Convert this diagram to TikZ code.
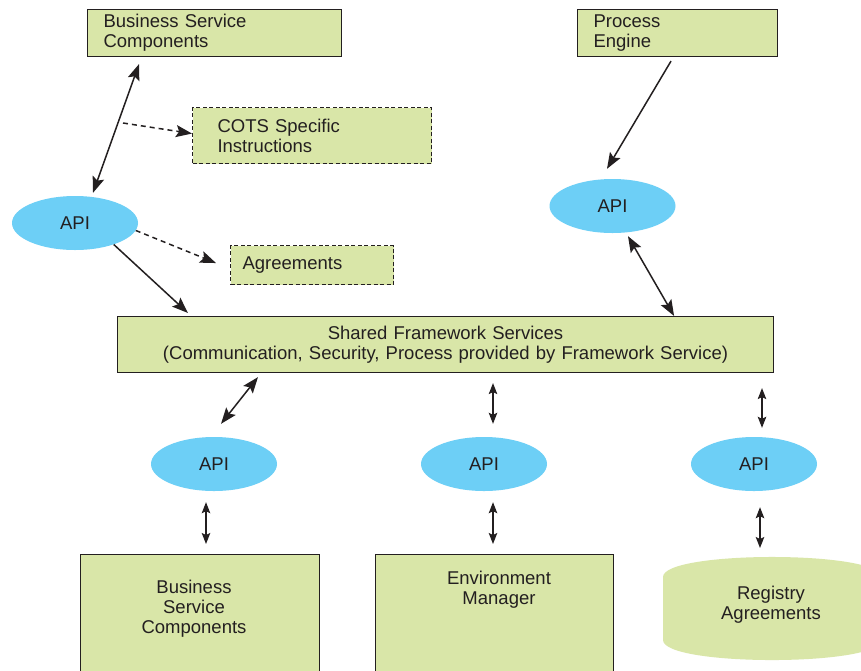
\documentclass[tikz,border=0pt]{standalone}
\usepackage{fontspec}
\setmainfont{Liberation Sans}
\usetikzlibrary{arrows.meta,calc,shapes.geometric}
\definecolor{boxgreen}{RGB}{217,230,168}
\definecolor{apiblue}{RGB}{109,207,246}
\definecolor{ink}{RGB}{35,31,32}
\begin{document}
\begin{tikzpicture}[x=1pt,y=-1pt,
  every node/.style={font=\fontsize{18.5}{20}\selectfont, text=ink},
  gbox/.style={draw=ink, line width=1.1pt, fill=boxgreen, rectangle, anchor=north west, align=left, inner ysep=0pt},
  dbox/.style={gbox, dash pattern=on 4pt off 2.5pt},
  api/.style={ellipse, fill=apiblue, minimum width=126pt, minimum height=54pt, inner sep=0pt},
  conn/.style={draw=ink, line width=1.5pt},
  dconn/.style={conn, dash pattern=on 5pt off 4pt},
  one/.style={-{Stealth[length=16pt,width=12pt,inset=3pt]}},
  both/.style={{Stealth[length=16pt,width=12pt,inset=3pt]}-{Stealth[length=16pt,width=12pt,inset=3pt]}},
  bothsm/.style={line width=1.2pt,{Stealth[length=11pt,width=8.5pt,inset=2pt]}-{Stealth[length=11pt,width=8.5pt,inset=2pt]}}
]
\useasboundingbox (0,0) rectangle (861,670);
\fill[white] (0,0) rectangle (861,670);
\clip (0,0) rectangle (861,670);

% top row
\node[gbox, minimum height=47pt, text width=222pt, inner xsep=16pt] (bsc) at (87,9) {Business Service\\Components};
\node[dbox, minimum height=56pt, text width=189pt, inner xsep=25pt] (cots) at (192,107) {COTS Specific\\Instructions};
\node[dbox, minimum height=39pt, text width=139pt, inner xsep=12pt] (agr) at (230,245) {Agreements};
\node[gbox, minimum height=47pt, text width=168pt, inner xsep=16pt] (pe) at (577,9) {Process\\Engine};

% APIs
\node[api] (api1) at (75,223) {API};
\node[api] (api2) at (612.5,206) {API};
\node[api] (api3) at (214,464) {API};
\node[api] (api4) at (484,464) {API};
\node[api] (api5) at (754,464) {API};

% shared framework
\node[gbox, minimum height=56pt, text width=656pt, inner xsep=0pt, align=center] (sfs) at (117,316)
  {Shared Framework Services\\(Communication, Security, Process provided by Framework Service)};

% bottom boxes
\node[gbox, minimum height=140pt, minimum width=239pt, inner sep=0pt] (bsc2) at (80,554) {};
\node[align=center] (bsc2t) at (194,608.5) {Business\\Service\\Components};
\node[gbox, minimum height=140pt, minimum width=238pt, inner sep=0pt] (env) at (375,554) {};
\node[align=center] (envt) at (499,590) {Environment\\Manager};

% registry cylinder
\fill[boxgreen] (663,640) -- (663,577) .. controls (663,550.3) and (881,550.3) .. (881,577)
  -- (881,640) .. controls (881,666.7) and (663,666.7) .. (663,640) -- cycle;
\coordinate (regtop) at (772,557);
\node[align=center] (reg) at (771,604.5) {Registry\\Agreements};

% connectors
\draw[conn,both] ($(bsc.south west)+(52,7)$) -- ($(api1.north)+(18,-3)$);
\coordinate (cotsstart) at (123,123);
\draw[dconn,one] (cotsstart) -- ($(cots.west)+(0,-2)$);
\draw[dconn,one] (api1.-7) -- ($(agr.west)+(-14,-2)$);
\draw[conn,one] (api1.-29) -- ($(sfs.north west)+(71,-3)$);
\draw[conn,one] ($(pe.south west)+(94,4)$) -- ($(api2.north)+(-5.5,-10)$);
\draw[conn,both] ($(api2.south)+(15.5,3)$) -- ($(sfs.north east)+(-100,0)$);
\draw[conn,both] ($(sfs.south west)+(141,4)$) -- ($(api3.north)+(7,-13)$);
\draw[conn,bothsm] ($(sfs.south west)+(376,10)$) -- ($(api4.north)+(9,-13)$);
\draw[conn,bothsm] ($(sfs.south west)+(645,15)$) -- ($(api5.north)+(8,-9)$);
\draw[conn,bothsm] ($(api3.south)+(-8,11)$) -- ($(bsc2.north west)+(126,-10)$);
\draw[conn,bothsm] ($(api4.south)+(9,11)$) -- ($(env.north west)+(118,-10)$);
\draw[conn,bothsm] ($(api5.south)+(6,16)$) -- ($(regtop)+(-12,-9)$);
\end{tikzpicture}
\end{document}
